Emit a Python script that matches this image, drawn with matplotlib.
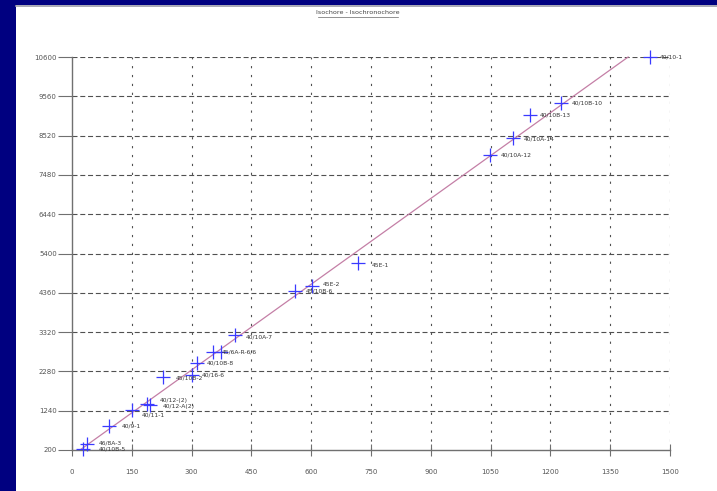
"""
Isochore - Isochronochore: scatter of samples (blue +) with labels and a
fitted straight line, on a navy slide background.
"""

import matplotlib

matplotlib.use("Agg")
import matplotlib.pyplot as plt
from matplotlib.lines import Line2D

NAVY = "#000080"
MARK = "#3a3aff"
FIT = "#c47fa6"
GRID = "#505050"
TXT = "#333333"

# ---- data ----
names = ["40/10-1", "40/10B-10", "40/10B-13", "40/10A-14", "40/10A-12",
         "45E-1", "45E-2", "45/10B-6", "40/10A-7", "45/6A-R-6/6", "",
         "40/10B-8", "40/16-6", "45/10B-2", "40/12-(2)", "40/12-A(2)",
         "40/11-1", "40/9-1", "46/8A-3", "40/10B-5"]
xs = [1451, 1226, 1150, 1105, 1048,
      718, 601, 559, 409, 354, 373,
      313, 300, 228, 189, 196,
      150, 94, 38, 28]
ys = [10600, 9390, 9060, 8460, 8000,
      5150, 4540, 4400, 3240, 2800, 2800,
      2490, 2180, 2135, 1410, 1400,
      1260, 835, 360, 215]

fit_x = [20, 1395]
fit_y = [200, 10600]

xticks = list(range(0, 1501, 150))
yticks = list(range(200, 10601, 1040))

# label offsets in points (dx, dy), one per point
offsets = [(7, 0), (8, 0), (7, 0), (8, -1), (8, 0),
           (10, -2), (8, 1), (8, 0), (8, -1), (6, 0), (6, 0),
           (7, 0), (7, 0), (9, -1), (9, 3), (9, -1),
           (7, -4), (9, 0), (8, 1), (11, 0)]


def build():
    fig = plt.figure(figsize=(7.17, 4.91), dpi=100, facecolor=NAVY)
    # white slide area, behind everything
    bg = fig.add_axes([16 / 717, 0, 1 - 16 / 717, 1 - 5 / 491], zorder=-5)
    bg.set_facecolor("white")
    bg.set_xticks([])
    bg.set_yticks([])
    for s in bg.spines.values():
        s.set_visible(False)
    fig.lines.append(Line2D([16 / 717, 1], [1 - 5.5 / 491, 1 - 5.5 / 491],
                            transform=fig.transFigure, color="#9a9aa8",
                            lw=1.2))

    ax = fig.add_axes([72 / 717, 1 - 450 / 491, 598 / 717, 393 / 491])
    ax.set_facecolor("none")
    ax.set_xlim(0, 1500)
    ax.set_ylim(200, 10600)
    for s in ("top", "right"):
        ax.spines[s].set_visible(False)
    for s in ("left", "bottom"):
        ax.spines[s].set_color("#707070")
        ax.spines[s].set_linewidth(1.0)

    ax.set_xticks(xticks)
    ax.set_yticks(yticks)
    ax.tick_params(axis="y", direction="out", length=10, width=0.8,
                   color="#707070", labelsize=5, labelcolor="#555555", pad=1)
    ax.tick_params(axis="x", direction="inout", length=8, width=0.8,
                   color="#707070", labelsize=5, labelcolor="#555555", pad=10)

    # dashed grid
    for v in xticks[1:]:
        ax.axvline(v, color=GRID, lw=0.8, ls=(0, (2, 6)), zorder=1)
    for v in yticks[1:]:
        ax.axhline(v, color=GRID, lw=0.8, ls=(0, (4.5, 2.5)), zorder=1)

    ax.plot(fit_x, fit_y, color=FIT, lw=0.9, zorder=2, clip_on=False)
    ax.plot(xs, ys, ls="none", marker="+", ms=10, mew=0.9, color=MARK,
            zorder=3, clip_on=False)

    for n, x, y, (dx, dy) in zip(names, xs, ys, offsets):
        if not n:
            continue
        ax.annotate(n, (x, y), xytext=(dx, dy), textcoords="offset points",
                    ha="left", va="center", fontsize=4.3, color=TXT,
                    annotation_clip=False, zorder=4)

    fig.text(358 / 717, 1 - 13 / 491, "Isochore - Isochronochore",
             ha="center", va="center", fontsize=4.6, color="#444444")
    fig.lines.append(Line2D([318 / 717, 398 / 717], [1 - 17 / 491, 1 - 17 / 491],
                            transform=fig.transFigure, color="#666666",
                            lw=0.5))

    fig.savefig("out.png", dpi=100, facecolor=NAVY)
    plt.close(fig)


if __name__ == "__main__":
    build()
